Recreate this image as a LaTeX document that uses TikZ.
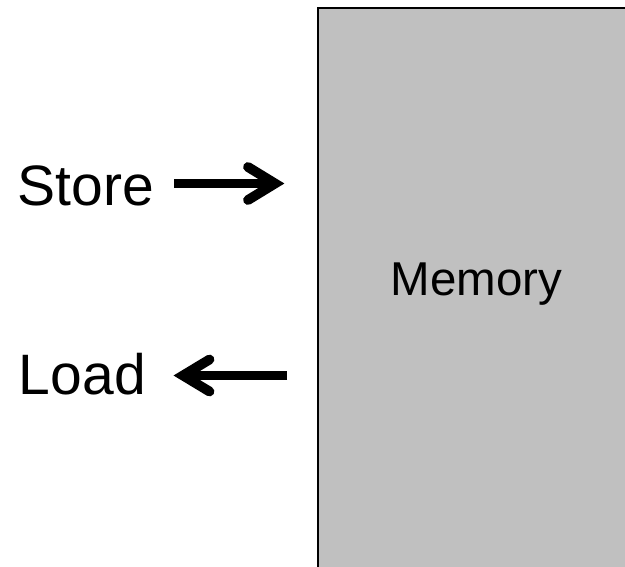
\documentclass[tikz,border=0pt]{standalone}
\usepackage{fontspec}
\setmainfont{Liberation Sans}
\definecolor{memgray}{HTML}{C0C0C0}
\begin{document}
\begin{tikzpicture}[x=1pt,y=1pt,
  shaft/.style={line width=9.8pt, line cap=butt},
  head/.style={line width=9.8pt, line cap=round, line join=miter, miter limit=10},
  lbl/.style={anchor=base west, inner sep=0pt, font=\fontsize{57}{68}\selectfont},
  memlbl/.style={anchor=base west, inner sep=0pt, font=\fontsize{47.5}{57}\selectfont},
  membox/.style={draw=black, line width=2pt, fill=memgray}]
\clip (0,0) rectangle (625,-566);
\fill[white] (0,0) rectangle (625,-566);
\draw[membox] (317.7,-7.7) rectangle (660,-600);
\node[memlbl] (memtext) at (390.5,-295) {Memory};
\node[lbl] (store) at (17.4,-205.5) {Store};
\node[lbl] (load) at (18.8,-394) {Load};
% store arrow
\coordinate (s1) at (174,-183.5);
\coordinate (s2) at (275,-183.5);
\coordinate (s3) at (248,-167);
\coordinate (s4) at (248,-200);
\draw[shaft] (s1) -- (s2);
\draw[head] (s3) -- (s2) -- (s4);
% load arrow
\coordinate (l1) at (287,-375.5);
\coordinate (l2) at (183,-375.5);
\coordinate (l3) at (209.5,-359.5);
\coordinate (l4) at (209.5,-391.5);
\draw[shaft] (l1) -- (l2);
\draw[head] (l3) -- (l2) -- (l4);
\end{tikzpicture}
\end{document}
